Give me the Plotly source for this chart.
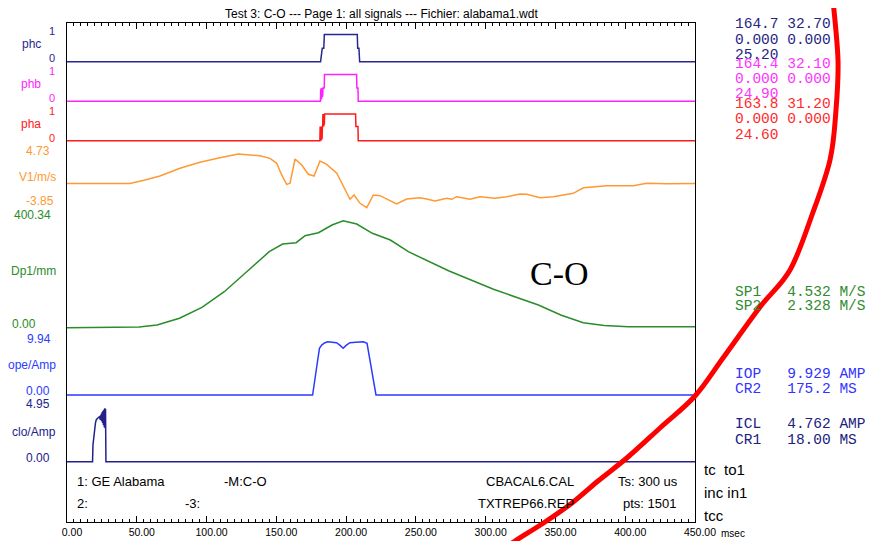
import plotly.graph_objects as go

# ------------------------------------------------------------------ data
phc_t = [0, 181.7, 182.9, 184.0, 184.4, 208.0, 208.3, 209.2, 209.7, 450]
phc_v = [0, 0, 0.49, 0.49, 1, 1, 0.49, 0.49, 0, 0]

phb_t = [0, 181.6, 181.8, 182.0, 182.2, 182.4, 182.6, 182.8, 183.0, 183.2, 183.4, 183.6,
         184.3, 184.5, 207.5, 207.7, 208.5, 208.7, 450]
phb_v = [0, 0, 0.45, 0.05, 0.5, 0.1, 0.5, 0.15, 0.5, 0.2, 0.5, 0.5,
         0.5, 1, 1, 0.5, 0.5, 0, 0]

pha_t = [0, 181.2, 181.4, 181.6, 181.8, 182.0, 182.2, 182.4, 182.6, 182.8, 183.0, 183.2,
         183.4, 183.6, 183.8, 184.0, 184.2, 184.4, 184.6, 184.8, 206.8, 207.0, 208.5, 208.7, 450]
pha_v = [0, 0, 0.53, 0, 0.53, 0, 0.53, 0.05, 0.53, 0.1, 0.53, 0.53,
         1, 0.53, 1, 0.53, 1, 0.6, 1, 1, 1, 0.53, 0.53, 0, 0]

v1_t = [0, 45.1, 55.9, 66.6, 81.0, 95.3, 109.6, 122.7, 138.3, 145.5, 150.3, 153.8, 157.4,
        159.8, 163.4, 168.2, 172.9, 177.0, 181.3, 186.1, 193.3, 198.0, 202.8, 205.7, 210.0,
        214.8, 219.5, 224.3, 230.2, 236.2, 243.4, 252.9, 257.7, 263.7, 272.1, 275.7, 279.2,
        288.8, 295.9, 306.7, 315.1, 324.6, 329.4, 339.0, 348.5, 362.8, 370.0, 377.1, 386.7,
        405.8, 415.4, 429.7, 450]
v1_v = [0, 0, 0.58, 1.22, 2.45, 3.40, 4.14, 4.73, 4.46, 4.04, 3.24, 1.38, -0.12,
        0.05, 3.93, 2.97, 1.49, 1.22, 3.61, 3.08, 1.65, -0.50, -2.51, -1.82, -3.15,
        -3.85, -1.82, -1.93, -2.62, -3.26, -2.46, -2.25, -2.46, -2.78, -2.35, -2.51, -2.09,
        -2.51, -2.09, -2.35, -2.09, -1.66, -1.71, -2.25, -2.09, -1.55, -0.66, -0.50, -0.34,
        -0.34, 0.05, -0.02, 0.03]

dp_t = [0, 51.6, 64.5, 80.6, 96.7, 112.7, 128.8, 144.9, 154.5, 164.2, 170.6, 180.2, 189.9,
        197.9, 207.6, 218.8, 231.7, 244.6, 273.4, 305.6, 337.8, 353.8, 369.9, 385.0, 402.1, 450]
dp_v = [0, 2.6, 10.1, 35.2, 76.3, 134.7, 209.5, 284.4, 313.2, 318.0, 344.2, 355.4, 384.3,
        400.34, 388.0, 353.2, 328.1, 284.4, 213.3, 143.7, 84.9, 47.5, 18.7, 8.0, 3.7, 3.7]

ope_t = [0, 176.0, 178.6, 180.9, 182.5, 184.5, 186.7, 190.0, 193.1, 195.5, 197.9, 200.0,
         202.7, 207.0, 212.4, 215.0, 218.2, 221.4, 450]
ope_v = [0, 0, 4.66, 8.71, 9.30, 9.70, 9.94, 9.85, 9.75, 9.30, 8.71, 9.25,
         9.75, 9.85, 9.94, 9.64, 4.66, 0, 0]

clo_t = [0, 18.3, 18.6, 19.2, 19.8, 20.4, 21.0, 21.6, 22.2, 22.8, 23.4, 23.7, 24.0, 24.3,
         24.6, 24.9, 25.2, 25.5, 25.8, 26.1, 26.4, 26.7, 27.0, 27.3, 27.6, 27.9, 450]
clo_v = [0, 0, 1.55, 2.50, 3.24, 3.60, 3.90, 4.02, 4.10, 4.14, 4.17, 3.90, 4.30, 3.85,
         4.45, 3.75, 4.60, 3.60, 4.72, 3.40, 4.82, 3.20, 4.95, 3.10, 4.90, 0, 0]

# scale limits shown on the left of each channel
ch_names = ["phc", "phb", "pha", "V1/m/s", "Dp1/mm", "ope/Amp", "clo/Amp"]
ch_max_txt = ["1", "1", "1", "4.73", "400.34", "9.94", "4.95"]
ch_min_txt = ["0", "0", "0", "-3.85", "0.00", "0.00", "0.00"]
ch_lo = [0, 0, 0, -3.85, 0, 0, 0]
ch_hi = [1, 1, 1, 4.73, 400.34, 9.94, 4.95]

x_tick_vals = [0, 50, 100, 150, 200, 250, 300, 350, 400, 450]
x_tick_text = ["0.00", "50.00", "100.00", "150.00", "200.00", "250.00", "300.00",
               "350.00", "400.00", "450.00"]

title_txt = "Test 3: C-O --- Page 1: all signals --- Fichier: alabama1.wdt"
info_row1 = ["1: GE Alabama", "-M:C-O", "CBACAL6.CAL", "Ts: 300 us"]
info_row2 = ["2:", "-3:", "TXTREP66.REP", "pts: 1501"]
side_txt = ["tc\u00a0\u00a0to1", "inc\u00a0in1", "tcc"]

res_phc = ["164.7 32.70", "0.000 0.000", "25.20"]
res_phb = ["164.4 32.10", "0.000 0.000", "24.90"]
res_pha = ["163.8 31.20", "0.000 0.000", "24.60"]
res_sp = ["SP1   4.532 M/S", "SP2   2.328 M/S"]
res_op = ["IOP   9.929 AMP", "CR2   175.2 MS"]
res_cl = ["ICL   4.762 AMP", "CR1   18.00 MS"]

# ------------------------------------------------------------------ layout helpers
OFF = 8                      # default body margin of the html page
PAGE_W, PAGE_H = 876, 541
PL, PR, PT, PB = 67, 695, 23, 522   # plot frame in page pixels
W, H = PAGE_W - OFF, PAGE_H - OFF
ML, MT = PL - OFF, PT - OFF
MR, MB = PAGE_W - PR, PAGE_H - PB
PW = PR - PL
PH = PB - PT


def px_x(px):
    return (px - PL) / PW


def px_y(py):
    return (PB - py) / PH


def panel(py_lo, py_hi, v_lo, v_hi, pad=4):
    per = (v_hi - v_lo) / (py_lo - py_hi)
    return dict(domain=[px_y(py_lo + pad), px_y(py_hi - pad)],
                range=[v_lo - pad * per, v_hi + pad * per])


C_PHC = "#27278f"
C_PHB = "#ff22ff"
C_PHA = "#ff1a1a"
C_V1 = "#ff9933"
C_DP = "#2a8c2a"
C_OPE = "#2b3bff"
C_CLO = "#22228a"
colors = [C_PHC, C_PHB, C_PHA, C_V1, C_DP, C_OPE, C_CLO]

# pixel rows (bottom value, top value) of each channel
rows = [(61.7, 34.5), (101.3, 74.5), (140.7, 114.0), (207.7, 154.0),
        (327.7, 220.7), (395.0, 341.7), (461.7, 408.3)]

series = [(phc_t, phc_v), (phb_t, phb_v), (pha_t, pha_v), (v1_t, v1_v),
          (dp_t, dp_v), (ope_t, ope_v), (clo_t, clo_v)]

fig = go.Figure()
# frame subplot (primary y)
fig.add_trace(go.Scatter(x=[0], y=[0], mode="markers", marker=dict(opacity=0),
                         hoverinfo="skip", showlegend=False, xaxis="x", yaxis="y"))

for i, ((t, v), col) in enumerate(zip(series, colors)):
    fig.add_trace(go.Scatter(x=t, y=v, mode="lines", line=dict(color=col, width=1.5),
                             showlegend=False, hoverinfo="skip",
                             xaxis="x", yaxis="y%d" % (i + 2)))

layout = dict(
    width=W, height=H, autosize=False,
    margin=dict(l=ML, r=MR, t=MT, b=MB, pad=0, autoexpand=False),
    paper_bgcolor="white", plot_bgcolor="white",
    showlegend=False,
    font=dict(family="Arial", size=11, color="black"),
    xaxis=dict(range=[0, 450], anchor="y", tickmode="array", tickvals=x_tick_vals,
               ticktext=x_tick_text, ticks="inside", ticklen=6, tickwidth=1,
               tickcolor="black", showline=True, linecolor="black", linewidth=1,
               mirror="ticks", showgrid=False, zeroline=False, ticklabelshift=5,
               automargin=False,
               minor=dict(tickmode="linear", tick0=0, dtick=5, ticks="inside", ticklen=3,
                          tickcolor="black", tickwidth=1, showgrid=False),
               tickfont=dict(family="Arial", size=10.5, color="black"), fixedrange=True),
    yaxis=dict(domain=[0, 1], range=[0, 1], showline=True, linecolor="black", linewidth=1,
               mirror=True, showticklabels=False, ticks="", showgrid=False,
               zeroline=False, fixedrange=True, automargin=False),
)
for i, (r, lo, hi) in enumerate(zip(rows, ch_lo, ch_hi)):
    p = panel(r[0], r[1], lo, hi)
    layout["yaxis%d" % (i + 2)] = dict(domain=p["domain"], range=p["range"], anchor="x",
                                       showline=False, showticklabels=False, ticks="",
                                       showgrid=False, zeroline=False, fixedrange=True,
                                       automargin=False)
fig.update_layout(**layout)

ann = []


def add_text(txt, xpx, ypx, color="black", size=11, anchor="left", family="Arial"):
    ann.append(dict(text=txt, x=px_x(xpx), y=px_y(ypx), xref="paper", yref="paper",
                    xanchor=anchor, yanchor="middle", showarrow=False,
                    font=dict(family=family, size=size, color=color)))


# left channel labels
max_pos = [(56.5, 31.5), (56.5, 71.0), (56.5, 110.7), (52, 150.5), (53, 214.5),
           (53, 339), (52, 404)]
name_pos = [(43, 44.5), (43, 84.5), (43, 124), (58, 177), (58, 271), (58, 365), (58, 432)]
min_pos = [(56.5, 58.3), (56.5, 97.7), (56.5, 137.7), (56, 201), (38, 324),
           (52, 391), (52, 458.3)]
for i, col in enumerate(colors):
    dsz = 11 if i < 3 else 12
    add_text(ch_max_txt[i], *max_pos[i], color=col, size=dsz, anchor="right")
    add_text(ch_names[i], *name_pos[i], color=col, size=12, anchor="right")
    add_text(ch_min_txt[i], *min_pos[i], color=col, size=dsz, anchor="right")

# title
add_text(title_txt, 381, 14.5, size=12, anchor="center")

# info box
for txt, xp in zip(info_row1, [75, 222, 484, 616]):
    add_text(txt, xp, 481, size=13)
for txt, xp in zip(info_row2, [75, 183, 476, 621]):
    add_text(txt, xp, 503, size=13)

# msec unit
add_text("msec", 719, 533, size=10)

# right side text
for txt, yp in zip(side_txt, [469, 492, 515]):
    add_text(txt, 702, yp, size=15)

MONO = "Liberation Mono, Courier New, monospace"


def mono(lines, ys, color):
    for txt, yp in zip(lines, ys):
        add_text(txt.replace(" ", "\u00a0"), 733, yp, color=color, size=14.5, family=MONO)


mono(res_phc, [24.3, 40, 55], "#26267f")
mono(res_phb, [64, 79.3, 94.3], "#ff33ff")
mono(res_pha, [104.3, 119.3, 135], "#ff2a2a")
mono(res_sp, [291.7, 306], "#2e8b2e")
mono(res_op, [374, 389], "#3333ff")
mono(res_cl, [424.3, 440], "#202080")

# big "C-O" label
add_text("C-O", 559, 273, size=34, anchor="center",
         family="Liberation Serif, Times New Roman, serif")

fig.update_layout(annotations=ann)

# hand-drawn red arc (overlay decoration)
arc_px = [(833, 0), (838, 60), (836, 110), (830, 160), (812, 215), (790, 270), (760, 307),
          (723, 358), (695, 396), (660, 428), (628, 457), (598, 481), (572, 503),
          (545, 522), (515, 541), (505, 548)]
pts = [(px_x(a), px_y(b)) for a, b in arc_px]


def smooth_path(p):
    d = "M %.5f,%.5f" % p[0]
    for i in range(len(p) - 1):
        p0 = p[i - 1] if i > 0 else p[i]
        p1, p2 = p[i], p[i + 1]
        p3 = p[i + 2] if i + 2 < len(p) else p2
        c1 = (p1[0] + (p2[0] - p0[0]) / 6, p1[1] + (p2[1] - p0[1]) / 6)
        c2 = (p2[0] - (p3[0] - p1[0]) / 6, p2[1] - (p3[1] - p1[1]) / 6)
        d += " C %.5f,%.5f %.5f,%.5f %.5f,%.5f" % (c1 + c2 + p2)
    return d


fig.add_shape(type="path", path=smooth_path(pts), xref="paper", yref="paper",
              line=dict(color="#ff0000", width=5), layer="above")

fig.write_html("out.html")
